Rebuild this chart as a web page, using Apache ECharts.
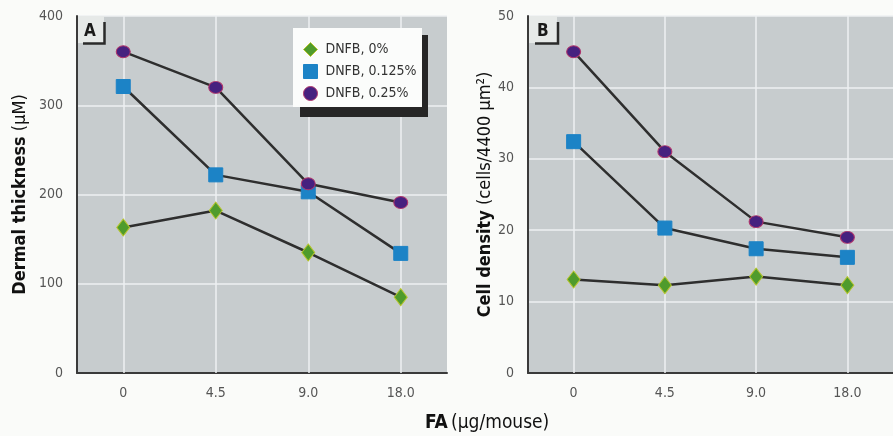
<!DOCTYPE html>
<html>
<head>
<meta charset="utf-8">
<script src="https://cdn.jsdelivr.net/npm/echarts@6/dist/echarts.min.js"></script>
<style>
html,body{margin:0;padding:0;background:#fafbf9;}
#chart{width:893px;height:436px;}
</style>
</head>
<body>
<div id="chart"></div>
<script>
const categories = ['0', '4.5', '9.0', '18.0'];
const seriesNames = ['DNFB, 0%', 'DNFB, 0.125%', 'DNFB, 0.25%'];
const thickness0 = [163, 182, 135, 85];
const thickness125 = [321, 222, 203, 134];
const thickness25 = [360, 320, 212, 191];
const density0 = [13.1, 12.3, 13.5, 12.3];
const density125 = [32.4, 20.3, 17.4, 16.2];
const density25 = [45.0, 31.0, 21.2, 19.0];
const yRangeA = [0, 400, 100];
const yRangeB = [0, 50, 10];

const FONT = "'Liberation Sans Narrow', 'DejaVu Sans Condensed', 'Arial Narrow', sans-serif";
const LINE = '#2e2e2e';
const markerStyles = [
  {symbol: 'diamond', symbolSize: [13, 17], color: '#4f9b2c', border: '#b5c42a'},
  {symbol: 'rect', symbolSize: [14, 14], color: '#1c83c6', border: '#1c83c6'},
  {symbol: 'circle', symbolSize: [14, 12], color: '#46217f', border: '#b0356c'}
];

function makeSeries(values, idx, gridIdx) {
  const m = markerStyles[idx];
  return {
    name: seriesNames[idx],
    type: 'line',
    xAxisIndex: gridIdx,
    yAxisIndex: gridIdx,
    data: values,
    symbol: m.symbol,
    symbolSize: m.symbolSize,
    showAllSymbol: true,
    lineStyle: {color: LINE, width: 2.5},
    itemStyle: {color: m.color, borderColor: m.border, borderWidth: 1, opacity: 1},
    z: 3 + idx,
    animation: false
  };
}

function gridMarkSeries(gridIdx) {
  return {
    type: 'line',
    xAxisIndex: gridIdx,
    yAxisIndex: gridIdx,
    data: [],
    silent: true,
    markLine: {
      z: 1,
      silent: true,
      symbol: ['none', 'none'],
      label: {show: false},
      lineStyle: {color: '#eef1f2', width: 1.5, type: 'solid'},
      emphasis: {disabled: true},
      data: categories.map((c, i) => ({xAxis: i}))
    },
    animation: false
  };
}

const catAxis = (gridIndex) => ({
  type: 'category',
  gridIndex,
  data: categories,
  boundaryGap: true,
  axisLine: {show: true, lineStyle: {color: '#3a3a3a', width: 2}},
  axisTick: {show: false},
  splitLine: {show: false},
  axisLabel: {color: '#555', fontSize: 14, fontFamily: FONT, margin: 13}
});

const valAxis = (gridIndex, r, name, gap) => ({
  type: 'value',
  gridIndex,
  min: r[0], max: r[1], interval: r[2],
  axisLine: {show: true, lineStyle: {color: '#3a3a3a', width: 2}},
  axisTick: {show: false},
  splitLine: {show: true, lineStyle: {color: '#eef1f2', width: 1.5}},
  axisLabel: {color: '#555', fontSize: 14, fontFamily: FONT, margin: 14},
  name: name,
  nameLocation: 'middle',
  nameGap: gap,
  nameRotate: 90,
  nameTextStyle: {
    fontFamily: FONT, fontSize: 18, color: '#111',
    rich: {
      b: {fontFamily: FONT, fontSize: 18, fontWeight: 'bold', color: '#111'},
      n: {fontFamily: FONT, fontSize: 18, color: '#111'}
    }
  }
});

const option = {
  backgroundColor: '#fafbf9',
  animation: false,
  grid: [
    {left: 77, right: 446, top: 16, bottom: 63, show: true, backgroundColor: '#c7ccce', borderWidth: 0},
    {left: 528, right: -5, top: 16, bottom: 63, show: true, backgroundColor: '#c7ccce', borderWidth: 0}
  ],
  xAxis: [catAxis(0), catAxis(1)],
  yAxis: [
    valAxis(0, yRangeA, '{b|Dermal thickness} {n|(μM)}', 48),
    valAxis(1, yRangeB, '{b|Cell density} {n|(cells/4400 μm²)}', 33)
  ],
  legend: {
    left: 293, top: 28,
    orient: 'vertical',
    padding: [14, 9, 9, 10],
    itemWidth: 14, itemHeight: 14, itemGap: 7,
    selectedMode: false,
    textStyle: {fontFamily: FONT, fontSize: 14, color: '#333', padding: [0, 0, 0, 3]},
    data: seriesNames.map((n, i) => ({
      name: n,
      icon: markerStyles[i].symbol,
      itemStyle: {color: markerStyles[i].color, borderColor: markerStyles[i].border, borderWidth: 1}
    })),
    z: 10
  },
  graphic: [
    // legend box with offset shadow
    {type: 'rect', left: 300, top: 35, shape: {width: 128, height: 82}, style: {fill: '#262626'}, z: 8},
    {type: 'rect', left: 293, top: 28, shape: {width: 129, height: 79}, style: {fill: '#fbfcfb'}, z: 9},
    // panel label A
    {type: 'rect', left: 78, top: 16, shape: {width: 26, height: 27}, style: {fill: '#e6e9e8'}, z: 8},
    {type: 'polyline', shape: {points: [[83, 43.5], [104.5, 43.5], [104.5, 22]]}, style: {stroke: '#2a2a2a', lineWidth: 2.5, fill: null}, z: 9},
    {type: 'text', left: 84, top: 23, style: {text: 'A', font: "bold 17px " + FONT, fill: '#1a1a1a'}, z: 9},
    // panel label B
    {type: 'rect', left: 529, top: 16, shape: {width: 28, height: 27}, style: {fill: '#e6e9e8'}, z: 8},
    {type: 'polyline', shape: {points: [[535, 43.5], [558, 43.5], [558, 22]]}, style: {stroke: '#2a2a2a', lineWidth: 2.5, fill: null}, z: 9},
    {type: 'text', left: 537, top: 23, style: {text: 'B', font: "bold 17px " + FONT, fill: '#1a1a1a'}, z: 9},
    // shared x-axis title
    {type: 'text', left: 425, top: 414, z: 9, style: {
      text: '{b|FA} {n|(μg/mouse)}',
      rich: {
        b: {fontFamily: FONT, fontSize: 19, fontWeight: 'bold', fill: '#111'},
        n: {fontFamily: FONT, fontSize: 19, fill: '#111'}
      }
    }}
  ],
  series: [
    gridMarkSeries(0),
    gridMarkSeries(1),
    makeSeries(thickness0, 0, 0),
    makeSeries(thickness125, 1, 0),
    makeSeries(thickness25, 2, 0),
    makeSeries(density0, 0, 1),
    makeSeries(density125, 1, 1),
    makeSeries(density25, 2, 1)
  ]
};

const chart = echarts.init(document.getElementById('chart'), null, {renderer: 'canvas'});
chart.setOption(option);
</script>
</body>
</html>
